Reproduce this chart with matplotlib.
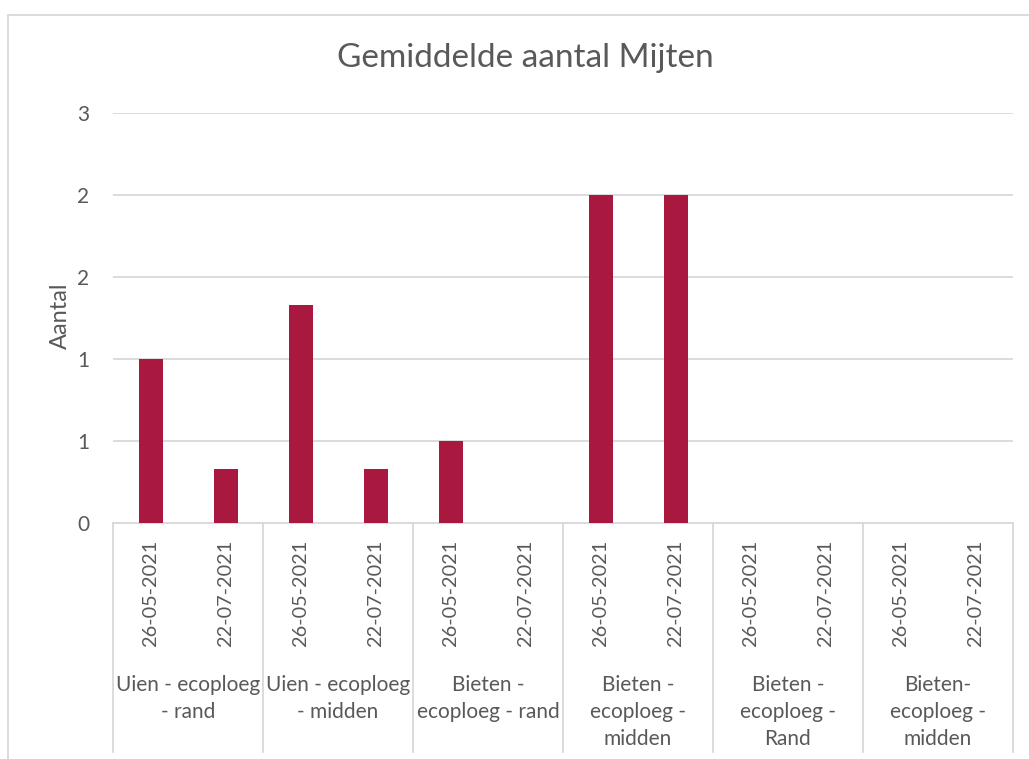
import matplotlib
matplotlib.use("Agg")
import matplotlib.pyplot as plt
from matplotlib.lines import Line2D
import matplotlib.transforms as mtransforms

plt.rcParams['font.family'] = ['Lato', 'DejaVu Sans']

# ---- data ----
groups = ["Uien - ecoploeg\n- rand", "Uien - ecoploeg\n- midden", "Bieten -\necoploeg - rand",
          "Bieten -\necoploeg -\nmidden", "Bieten -\necoploeg -\nRand", "Bieten-\necoploeg -\nmidden"]
dates = ["26-05-2021", "22-07-2021"]
values = [1.0, 0.33, 1.33, 0.33, 0.5, 0.0, 2.0, 2.0, 0.0, 0.0, 0.0, 0.0]
ytick_values = [0, 0.5, 1.0, 1.5, 2.0, 2.5]
ytick_labels = ["0", "1", "1", "2", "2", "3"]
title = "Gemiddelde aantal Mijten"
ylabel = "Aantal"

W, H = 1029, 759
fig = plt.figure(figsize=(W / 100, H / 100), dpi=100)
TXT = "#595959"
GRID = "#D9D9D9"
BAR = "#A8183F"

ax_l, ax_r, ax_t, ax_b = 113, 1013, 113, 523
ax = fig.add_axes([ax_l / W, 1 - ax_b / H, (ax_r - ax_l) / W, (ax_b - ax_t) / H])

n = len(values)
xs = [i + 0.5 for i in range(n)]
ax.bar(xs, values, width=0.32, color=BAR, zorder=3)
ax.set_xlim(0, n)
ax.set_ylim(0, 2.5)
ax.set_yticks(ytick_values)
ax.set_yticklabels(ytick_labels, color=TXT, fontsize=15)
ax.yaxis.grid(True, color=GRID, linewidth=1.3, zorder=0)
ax.tick_params(axis='y', length=0, pad=17)
for s in ["top", "right", "left"]:
    ax.spines[s].set_visible(False)
ax.spines["bottom"].set_color(GRID)
ax.spines["bottom"].set_linewidth(1.3)

ax.set_xticks(xs)
ax.set_xticklabels(dates * len(groups), rotation=90, color=TXT, fontsize=14.3)
ax.tick_params(axis='x', length=0, pad=12)

# y label
fig.text(60 / W, 1 - 316 / H, ylabel, rotation=90, ha='center', va='center', color=TXT, fontsize=17)
# title
fig.text(525 / W, 1 - 58 / H, title, ha='center', va='center', color=TXT, fontsize=24)

# group separators and labels
trans = mtransforms.blended_transform_factory(ax.transData, fig.transFigure)
for g in range(len(groups) + 1):
    xg = 2 * g
    ax.add_line(Line2D([xg, xg], [1 - ax_b / H, 1 - 752 / H], transform=trans,
                       color=GRID, linewidth=1.3, clip_on=False))
line_y = [685, 712, 739]
for g, lab in enumerate(groups):
    for k, line in enumerate(lab.split("\n")):
        ax.text(2 * g + 1, 1 - line_y[k] / H, line, transform=trans, ha='center', va='center',
                color=TXT, fontsize=15, clip_on=False)

# chart frame (top and left edges visible)
fig.add_artist(Line2D([8 / W, 1.0], [1 - 15 / H, 1 - 15 / H], transform=fig.transFigure,
                      color=GRID, linewidth=1.3))
fig.add_artist(Line2D([8 / W, 8 / W], [1 - 15 / H, 0], transform=fig.transFigure,
                      color=GRID, linewidth=1.3))

fig.savefig("out.png", dpi=100)
